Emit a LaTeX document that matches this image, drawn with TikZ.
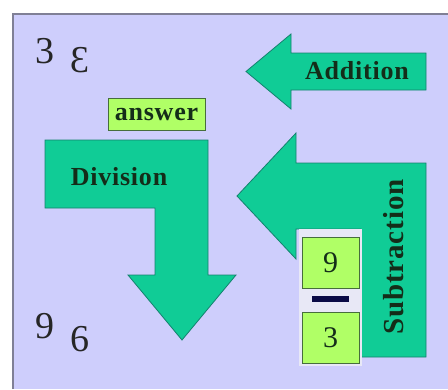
\documentclass[tikz,border=0pt]{standalone}
\usepackage{fontspec}
\setmainfont{Liberation Serif}
\newfontfamily\lblfont{Liberation Serif}[LetterSpace=3]
\definecolor{panelbg}{RGB}{206,206,252}
\definecolor{panelline}{RGB}{128,128,150}
\definecolor{arrowfill}{RGB}{16,204,150}
\definecolor{arrowline}{RGB}{20,130,110}
\definecolor{limefill}{RGB}{176,255,102}
\definecolor{limeline}{RGB}{70,110,60}
\definecolor{txtdark}{RGB}{20,45,25}
\definecolor{backdrop}{RGB}{232,232,246}
\definecolor{barcol}{RGB}{10,10,70}
\tikzset{
  bigarrow/.style={fill=arrowfill, draw=arrowline, line width=0.8pt, line join=miter},
  arrowlabel/.style={font=\lblfont\bfseries\fontsize{26}{26}\selectfont, text=txtdark, inner sep=0pt},
  limebox/.style={fill=limefill, draw=limeline, line width=0.8pt, inner sep=0pt},
  digit/.style={font=\fontsize{38}{38}\selectfont, text=black!85, inner sep=0pt},
  boxdigit/.style={font=\fontsize{30}{30}\selectfont, text=txtdark, inner sep=0pt}
}
\begin{document}
\begin{tikzpicture}[x=1pt,y=-1pt]
\useasboundingbox (0,0) rectangle (448,389);
\fill[white] (0,0) rectangle (448,389);
\fill[panelbg] (13,14) rectangle (448,389);
\draw[panelline, line width=1.2pt] (13,389) -- (13,14) -- (448,14);
% Addition arrow
\draw[bigarrow] (246,71.5) -- (291,34) -- (291,53) -- (426,53) -- (426,90) -- (291,90) -- (291,109) -- cycle;
\node[arrowlabel] (add) at (357,71) {Addition};
% Subtraction arrow
\draw[bigarrow] (237,196) -- (296,133) -- (296,163) -- (426,163) -- (426,357) -- (361,357) -- (361,229) -- (296,229) -- (296,259) -- cycle;
\node[arrowlabel, font=\lblfont\bfseries\fontsize{29}{29}\selectfont, rotate=90] (sub) at (394,257) {Subtraction};
% Division arrow
\draw[bigarrow] (45,140) -- (208,140) -- (208,275) -- (236,275) -- (182,340) -- (128,275) -- (155,275) -- (155,208) -- (45,208) -- cycle;
\node[arrowlabel] (div) at (119,177) {Division};
% answer
\node[limebox, minimum width=97pt, minimum height=32pt, arrowlabel, draw=limeline, fill=limefill] (ans) at (156.5,114) {answer};
% fraction group
\fill[backdrop] (299,229) rectangle (362,366);
\node[limebox, minimum width=57pt, minimum height=51pt, boxdigit] (nine) at (330.5,262.5) {9};
\node[limebox, minimum width=57pt, minimum height=51pt, boxdigit] (three) at (330.5,337.5) {3};
\fill[barcol] (312,296) rectangle (349,302);
% loose digits
\node[digit] (d3) at (45,51) {3};
\node[digit, xscale=-1] (d3m) at (80,60) {3};
\node[digit] (d9) at (45,326) {9};
\node[digit] (d6) at (80,339) {6};
\end{tikzpicture}
\end{document}
